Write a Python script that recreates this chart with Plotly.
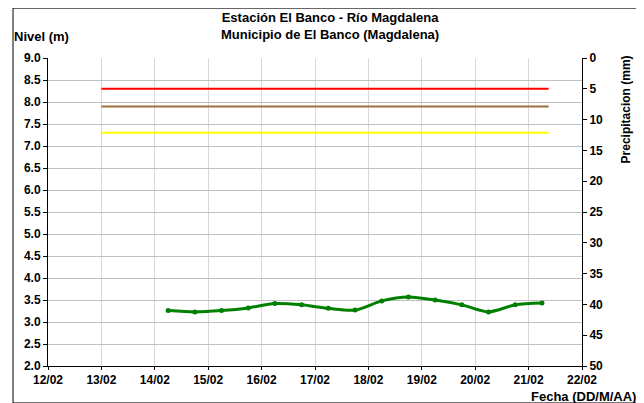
import plotly.graph_objects as go

# Data
fechas = ["2013-02-14 06:00", "2013-02-14 18:00", "2013-02-15 06:00", "2013-02-15 18:00",
          "2013-02-16 06:00", "2013-02-16 18:00", "2013-02-17 06:00", "2013-02-17 18:00",
          "2013-02-18 06:00", "2013-02-18 18:00", "2013-02-19 06:00", "2013-02-19 18:00",
          "2013-02-20 06:00", "2013-02-20 18:00", "2013-02-21 06:00"]
nivel = [3.26, 3.23, 3.26, 3.32, 3.42, 3.39, 3.31, 3.27, 3.48, 3.57, 3.50, 3.39, 3.23, 3.39, 3.43]

umbral_x = ["2013-02-13 00:00", "2013-02-21 09:00"]
umbral_rojo = 8.3
umbral_naranja = 7.9
umbral_amarillo = 7.3

precip_fechas = []
precip = []

x_ticks = ["2013-02-%02d" % d for d in range(12, 23)]
x_labels = ["%02d/02" % d for d in range(12, 23)]
y_ticks = [2.0 + 0.5 * i for i in range(15)]
y2_ticks = [5 * i for i in range(11)]

FONT = "Liberation Sans"

fig = go.Figure()

for val, col in [(umbral_rojo, "#ff0000"), (umbral_naranja, "#a0703c"), (umbral_amarillo, "#ffff00")]:
    fig.add_trace(go.Scatter(x=umbral_x, y=[val, val], mode="lines",
                             line=dict(color=col, width=2), showlegend=False, hoverinfo="skip"))

fig.add_trace(go.Scatter(x=fechas, y=nivel, mode="lines+markers",
                         line=dict(color="#008000", width=3, shape="spline", smoothing=0.8),
                         marker=dict(color="#008000", size=5), showlegend=False))

fig.add_trace(go.Bar(x=precip_fechas, y=precip, yaxis="y2", marker_color="#0000ff", showlegend=False))

tickfont = dict(family=FONT, size=12, color="black")

fig.update_layout(
    width=636, height=395,
    margin=dict(l=40, r=62, t=50, b=37),
    paper_bgcolor="white", plot_bgcolor="white",
    font=dict(family=FONT, color="black"),
    xaxis=dict(type="date", range=["2013-02-12", "2013-02-22"],
               tickvals=x_ticks, ticktext=["<b>%s</b>" % t for t in x_labels], tickfont=tickfont,
               showgrid=True, gridcolor="#d9d9d9", gridwidth=1,
               showline=True, linecolor="black", linewidth=1,
               ticks="outside", ticklen=3, tickcolor="black", zeroline=False),
    yaxis=dict(range=[2, 9], tickvals=y_ticks, ticktext=["<b>%.1f</b>" % v for v in y_ticks],
               tickfont=tickfont,
               showgrid=True, gridcolor="#c0c0c0", gridwidth=1,
               showline=True, linecolor="black", linewidth=1,
               ticks="outside", ticklen=4, tickcolor="black", zeroline=False),
    yaxis2=dict(range=[50, 0], tickvals=y2_ticks, ticktext=["<b>%d</b>" % v for v in y2_ticks],
                overlaying="y", side="right", tickfont=tickfont,
                showgrid=False, showline=True, linecolor="black", linewidth=1,
                ticks="outside", ticklen=4, tickcolor="black", zeroline=False),
    shapes=[dict(type="rect", xref="paper", yref="paper",
                 x0=-0.0655, x1=1.1086, y0=-0.12, y1=1.162,
                 line=dict(color="black", width=1), fillcolor="rgba(0,0,0,0)", layer="below")],
    annotations=[
        dict(text="<b>Estación El Banco - Río Magdalena</b><br><b>Municipio de El Banco (Magdalena)</b>",
             xref="paper", yref="paper", x=0.528, y=1.162, xanchor="center", yanchor="top",
             showarrow=False, font=dict(family=FONT, size=13), align="center"),
        dict(text="<b>Nivel (m)</b>", xref="paper", yref="paper", x=-0.068, y=1.07,
             xanchor="left", yanchor="middle", showarrow=False, font=dict(family=FONT, size=13)),
        dict(text="<b>Fecha (DD/M/AA)</b>", xref="paper", yref="paper", x=1.104, y=-0.099,
             xanchor="right", yanchor="middle", showarrow=False, font=dict(family=FONT, size=13)),
        dict(text="<b>Precipitacion (mm)</b>", xref="paper", yref="paper", x=1.083, y=0.834,
             xanchor="center", yanchor="middle", textangle=-90, showarrow=False,
             font=dict(family=FONT, size=12)),
    ],
)

fig.write_html("out.html")
